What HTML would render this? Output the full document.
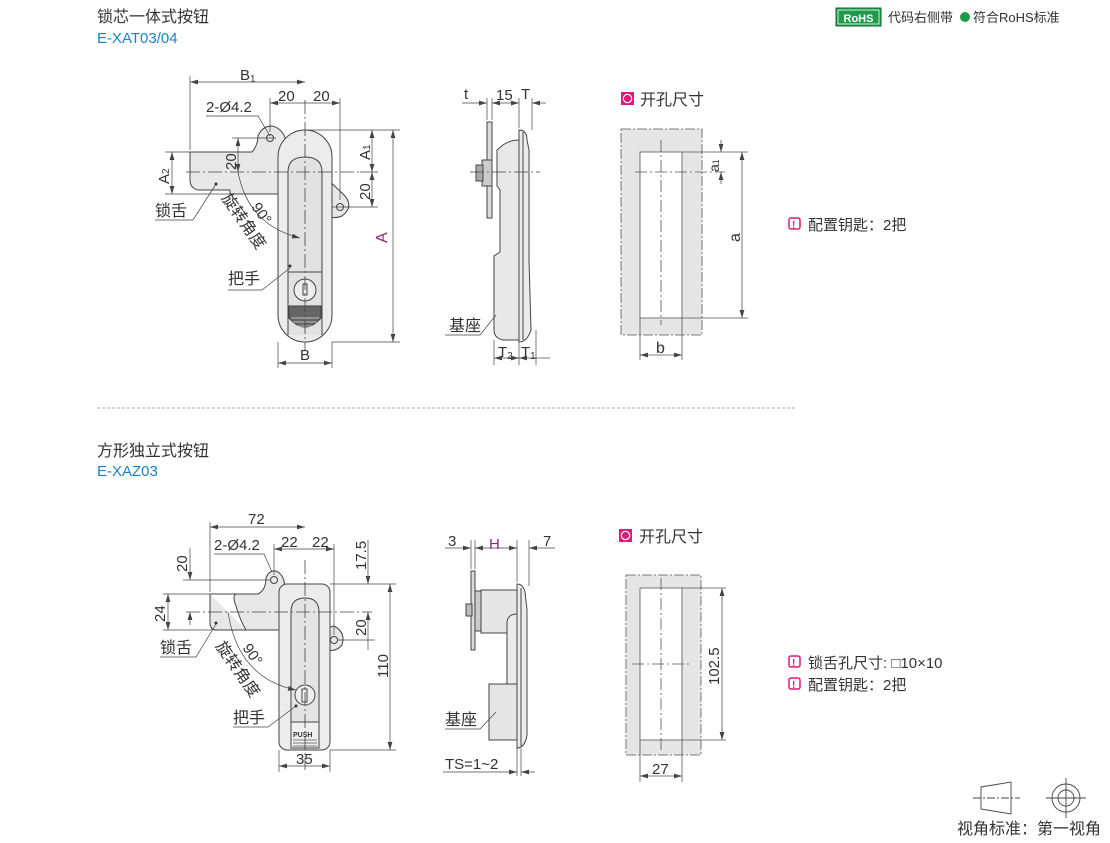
<!DOCTYPE html>
<html><head><meta charset="utf-8">
<style>
html,body{margin:0;padding:0;background:#fff;}
svg{display:block;}
text{font-family:"Liberation Sans","Noto Sans CJK SC",sans-serif;fill:#333;}
</style></head>
<body>
<svg width="1110" height="843" viewBox="0 0 1110 843" xmlns="http://www.w3.org/2000/svg">
<defs>
<marker id="a" viewBox="0 0 10 6" refX="10" refY="3" markerWidth="8" markerHeight="5" orient="auto-start-reverse" markerUnits="userSpaceOnUse"><path d="M0,0 L10,3 L0,6 z" fill="#444"/></marker>
</defs>

<text x="97" y="22" font-size="16">锁芯一体式按钮</text>
<text x="97" y="43" font-size="15" style="fill:#1a82c4">E-XAT03/04</text>
<line x1="97" y1="408" x2="795" y2="408" stroke="#aaa" stroke-dasharray="3,2"/>
<text x="97" y="456" font-size="16">方形独立式按钮</text>
<text x="97" y="476" font-size="15" style="fill:#1a82c4">E-XAZ03</text>

<rect x="836" y="8" width="45" height="18" fill="#1e9a4a" stroke="#0d6e30"/>
<rect x="838" y="10" width="41" height="14" fill="none" stroke="#fff" stroke-width="0.8"/>
<text x="858.5" y="22" font-size="11" font-weight="bold" text-anchor="middle" style="fill:#fff">RoHS</text>
<text x="888" y="22" font-size="13">代码右侧带</text>
<circle cx="965" cy="17" r="5" fill="#1e9a4a"/>
<text x="973" y="22" font-size="13">符合RoHS标准</text>

<g stroke="#444" stroke-width="1" fill="none">
<path d="M190,152 L252,152 Q258,145 258,136 Q262,126 272,126 Q282,128 286,140 L286,194 L230,194 L230,190 L198,190 Q190,188 190,180 Z" fill="#e8e8e8"/>
<path d="M318,170 L345,196 Q354,207 342,216 Q332,220 326,214 Z" fill="#e8e8e8"/>
<rect x="278" y="130" width="54" height="212" rx="27" fill="#ececec"/>
<path d="M288,335 L288,172 Q288,157 305,157 Q322,157 322,172 L322,335" fill="#e2e2e2"/>
<line x1="288" y1="272" x2="322" y2="272"/>
<circle cx="305" cy="290" r="11" fill="#eee"/>
<rect x="303" y="284" width="4" height="11"/>
<path d="M289,306 L321,306 L321,318 Q305,336 289,318 Z" fill="#666"/>
<g stroke="#ddd" stroke-width="0.8"><line x1="291" y1="318" x2="319" y2="318"/><line x1="293" y1="322" x2="317" y2="322"/><line x1="296" y1="326" x2="314" y2="326"/></g>
<circle cx="270" cy="138" r="3.5"/><circle cx="340" cy="207" r="3.5"/>
<g stroke-dasharray="14,3,2,3" stroke-width="0.8">
<line x1="305" y1="100" x2="305" y2="350"/><line x1="186" y1="172" x2="360" y2="172"/>
<line x1="262" y1="138" x2="278" y2="138"/><line x1="332" y1="207" x2="350" y2="207"/>
</g>
<g stroke-width="0.7">
<line x1="190" y1="76" x2="190" y2="150"/>
<line x1="190" y1="82" x2="305" y2="82" marker-start="url(#a)" marker-end="url(#a)"/>
<line x1="270" y1="98" x2="270" y2="132"/><line x1="340" y1="98" x2="340" y2="200"/>
<line x1="270" y1="103" x2="340" y2="103" marker-start="url(#a)" marker-end="url(#a)"/>
<line x1="305" y1="130" x2="400" y2="130"/><line x1="332" y1="342" x2="400" y2="342"/>
<line x1="393" y1="130" x2="393" y2="342" marker-start="url(#a)" marker-end="url(#a)"/>
<line x1="360" y1="172" x2="378" y2="172"/><line x1="345" y1="207" x2="378" y2="207"/>
<line x1="372" y1="130" x2="372" y2="172" marker-start="url(#a)" marker-end="url(#a)"/>
<line x1="372" y1="172" x2="372" y2="207" marker-start="url(#a)" marker-end="url(#a)"/>
<line x1="165" y1="152" x2="192" y2="152"/><line x1="165" y1="194" x2="230" y2="194"/>
<line x1="172" y1="152" x2="172" y2="194" marker-start="url(#a)" marker-end="url(#a)"/>
<line x1="232" y1="138" x2="262" y2="138"/>
<line x1="238" y1="138" x2="238" y2="172" marker-start="url(#a)" marker-end="url(#a)"/>
<line x1="278" y1="342" x2="278" y2="368"/><line x1="332" y1="342" x2="332" y2="368"/>
<line x1="278" y1="363" x2="332" y2="363" marker-start="url(#a)" marker-end="url(#a)"/>
<path d="M206,116 L258,116 L270,136"/>
<path d="M238,172 Q248,225 300,238" marker-end="url(#a)"/>
<path d="M155,220 L193,220 L216,184"/>
<path d="M228,290 L262,290 L290,268"/>
</g>
</g>
<circle cx="216" cy="184" r="1.5" fill="#333"/><circle cx="290" cy="266" r="1.5" fill="#333"/>
<text x="240" y="80" font-size="15">B<tspan font-size="10" dy="2">1</tspan></text>
<text x="206" y="112" font-size="15">2-Ø4.2</text>
<text x="278" y="101" font-size="15">20</text><text x="313" y="101" font-size="15">20</text>
<text font-size="16" transform="translate(387,243) rotate(-90)" style="fill:#8b2a7a">A</text>
<text font-size="15" transform="translate(370,160) rotate(-90)">A<tspan font-size="10">1</tspan></text>
<text font-size="15" transform="translate(370,200) rotate(-90)">20</text>
<text font-size="15" transform="translate(169,184) rotate(-90)">A<tspan font-size="10">2</tspan></text>
<text font-size="15" transform="translate(236,170) rotate(-90)">20</text>
<text x="300" y="360" font-size="15">B</text>
<text x="155" y="216" font-size="16">锁舌</text>
<text x="228" y="284" font-size="16">把手</text>
<text font-size="15" transform="translate(251,207) rotate(55)">90°</text>
<text font-size="16" transform="translate(221,198) rotate(55)">旋转角度</text>

<g stroke="#444" stroke-width="1" fill="none">
<rect x="487" y="122" width="5" height="96" fill="#ddd"/>
<path d="M497,160 L497,150 L503,145 Q510,140 519,140 L519,340 L503,340 Q494,338 494,330 L494,256 L500,252 L500,190 L497,186 Z" fill="#e8e8e8"/>
<rect x="482" y="160" width="10" height="26" fill="#ccc"/>
<rect x="476" y="165" width="7" height="16" fill="#aaa"/>
<path d="M519,130 Q527,130 527,140 L529,150 L529,260 L531,330 Q527,342 519,342 Z" fill="#ececec"/>
<line x1="523" y1="132" x2="523" y2="340"/>
<g stroke-width="0.7">
<line x1="487" y1="98" x2="487" y2="120"/><line x1="492" y1="98" x2="492" y2="120"/><line x1="519" y1="98" x2="519" y2="128"/><line x1="532" y1="98" x2="532" y2="130"/>
<line x1="462" y1="103" x2="487" y2="103" marker-end="url(#a)"/>
<line x1="492" y1="103" x2="519" y2="103" marker-start="url(#a)" marker-end="url(#a)"/>
<line x1="532" y1="103" x2="546" y2="103" marker-start="url(#a)"/>
<line x1="494" y1="340" x2="494" y2="365"/><line x1="519" y1="342" x2="519" y2="365"/><line x1="536" y1="330" x2="536" y2="365"/>
<line x1="494" y1="358" x2="519" y2="358" marker-start="url(#a)" marker-end="url(#a)"/>
<line x1="519" y1="358" x2="536" y2="358" marker-start="url(#a)"/>
<line x1="536" y1="358" x2="550" y2="358"/>
<path d="M445,335 L480,335 L496,315"/>
<line x1="470" y1="172" x2="540" y2="172" stroke-dasharray="14,3,2,3"/>
</g>
</g>
<text x="464" y="99" font-size="15">t</text><text x="496" y="100" font-size="15">15</text><text x="521" y="99" font-size="15">T</text>
<text x="498" y="357" font-size="15">T<tspan font-size="10" dy="2">2</tspan></text>
<text x="521" y="357" font-size="15">T<tspan font-size="10" dy="2">1</tspan></text>
<text x="449" y="331" font-size="16">基座</text>

<rect x="621" y="92" width="13" height="13" fill="#e0197a"/><circle cx="627.5" cy="98.5" r="4.2" fill="none" stroke="#fff" stroke-width="1.2"/>
<text x="640" y="105" font-size="16">开孔尺寸</text>
<g stroke="#555" stroke-width="0.8" fill="none">
<rect x="621" y="129" width="81" height="206" fill="#e6e6e6" stroke-dasharray="10,2,2,2"/>
<rect x="640" y="152" width="42" height="166" fill="#fff"/>
<g stroke-dasharray="12,3,2,3"><line x1="661" y1="140" x2="661" y2="325"/><line x1="635" y1="172" x2="725" y2="172"/></g>
<line x1="682" y1="152" x2="748" y2="152"/><line x1="682" y1="318" x2="748" y2="318"/>
<line x1="742" y1="152" x2="742" y2="318" marker-start="url(#a)" marker-end="url(#a)"/>
<line x1="721" y1="140" x2="721" y2="152" marker-end="url(#a)"/><line x1="721" y1="184" x2="721" y2="172" marker-end="url(#a)"/>
<line x1="640" y1="318" x2="640" y2="360"/><line x1="682" y1="318" x2="682" y2="360"/>
<line x1="640" y1="355" x2="682" y2="355" marker-start="url(#a)" marker-end="url(#a)"/>
</g>
<text font-size="14" transform="translate(719,172) rotate(-90)">a<tspan font-size="9">1</tspan></text>
<text font-size="16" transform="translate(740,242) rotate(-90)">a</text>
<text x="656" y="353" font-size="16">b</text>

<rect x="789" y="218" width="11" height="11" rx="2" fill="none" stroke="#e0197a" stroke-width="1.5"/>
<text x="792" y="228" font-size="10" font-weight="bold" style="fill:#e0197a">!</text>
<text x="808" y="230" font-size="15">配置钥匙：2把</text>

<g stroke="#444" stroke-width="1" fill="none">
<path d="M210,594 L258,594 Q266,590 266,578 Q270,568 278,572 Q286,578 284,588 L284,630 L246,630 Q240,620 236,606 Q232,596 236,594 M210,594 L210,624 Q211,630 216,630 L246,630" fill="#e8e8e8"/>
<path d="M322,630 L334,626 Q346,632 342,645 Q336,652 328,650 Z" fill="#e8e8e8"/>
<rect x="279" y="584" width="51" height="166" rx="8" fill="#ececec"/>
<path d="M291,722 L291,612 Q291,598 305,598 Q319,598 319,612 L319,722" fill="#e4e4e4"/>
<circle cx="305" cy="695" r="10" fill="#eee"/>
<rect x="302" y="689" width="5" height="13"/>
<rect x="291" y="722" width="28" height="26" fill="#f0f0f0"/>
<g stroke="#777"><line x1="293" y1="740" x2="317" y2="740"/><line x1="293" y1="743" x2="317" y2="743"/><line x1="293" y1="746" x2="317" y2="746"/></g>
<circle cx="274" cy="580" r="3.5"/><circle cx="334" cy="640" r="3.5"/>
<g stroke-dasharray="14,3,2,3" stroke-width="0.8">
<line x1="305" y1="560" x2="305" y2="770"/><line x1="186" y1="612" x2="372" y2="612"/>
</g>
<g stroke-width="0.7">
<line x1="210" y1="522" x2="210" y2="592"/>
<line x1="210" y1="527" x2="305" y2="527" marker-start="url(#a)" marker-end="url(#a)"/>
<line x1="274" y1="544" x2="274" y2="575"/><line x1="334" y1="544" x2="334" y2="635"/>
<line x1="274" y1="549" x2="334" y2="549" marker-start="url(#a)" marker-end="url(#a)"/>
<line x1="330" y1="584" x2="396" y2="584"/><line x1="330" y1="750" x2="396" y2="750"/>
<line x1="390" y1="584" x2="390" y2="750" marker-start="url(#a)" marker-end="url(#a)"/>
<line x1="368" y1="540" x2="368" y2="584" marker-end="url(#a)"/>
<line x1="368" y1="650" x2="368" y2="612" marker-end="url(#a)"/>
<line x1="338" y1="640" x2="375" y2="640"/>
<line x1="183" y1="580" x2="270" y2="580"/>
<line x1="190" y1="548" x2="190" y2="580" marker-end="url(#a)"/>
<line x1="190" y1="625" x2="190" y2="612" marker-end="url(#a)"/>
<line x1="163" y1="594" x2="212" y2="594"/><line x1="163" y1="630" x2="212" y2="630"/>
<line x1="168" y1="594" x2="168" y2="630" marker-start="url(#a)" marker-end="url(#a)"/>
<line x1="279" y1="750" x2="279" y2="772"/><line x1="330" y1="750" x2="330" y2="772"/>
<line x1="279" y1="766" x2="330" y2="766" marker-start="url(#a)" marker-end="url(#a)"/>
<path d="M214,554 L264,554 L272,572"/>
<path d="M228,612 Q238,678 296,690" marker-end="url(#a)"/>
<path d="M160,657 L196,657 L216,624"/>
<path d="M233,727 L268,727 L296,706"/>
</g>
</g>
<circle cx="216" cy="623" r="1.5" fill="#333"/><circle cx="296" cy="706" r="1.5" fill="#333"/>
<text x="248" y="524" font-size="15">72</text>
<text x="214" y="550" font-size="15">2-Ø4.2</text>
<text x="281" y="547" font-size="15">22</text><text x="312" y="547" font-size="15">22</text>
<text font-size="15" transform="translate(388,678) rotate(-90)">110</text>
<text font-size="15" transform="translate(366,570) rotate(-90)">17.5</text>
<text font-size="15" transform="translate(366,636) rotate(-90)">20</text>
<text font-size="15" transform="translate(187,572) rotate(-90)">20</text>
<text font-size="15" transform="translate(165,622) rotate(-90)">24</text>
<text x="296" y="764" font-size="15">35</text>
<text x="160" y="653" font-size="16">锁舌</text>
<text x="233" y="723" font-size="16">把手</text>
<text font-size="15" transform="translate(242,648) rotate(55)">90°</text>
<text font-size="16" transform="translate(215,646) rotate(55)">旋转角度</text>
<text x="293" y="737" font-size="7" font-weight="bold">PUSH</text>

<g stroke="#444" stroke-width="1" fill="none">
<rect x="471" y="571" width="4" height="79" fill="#ddd"/>
<rect x="475" y="591" width="6" height="40" fill="#ccc"/>
<rect x="466" y="604" width="6" height="12" fill="#bbb"/>
<rect x="481" y="590" width="36" height="43" fill="#e6e6e6"/>
<path d="M517,614 Q508,614 507,622 L507,690 Q507,700 517,702 Z" fill="#ececec"/>
<rect x="489" y="684" width="28" height="56" fill="#e6e6e6"/>
<path d="M517,584 Q523,584 525,592 L527,610 L527,735 Q525,748 517,748 Z" fill="#ececec"/>
<line x1="521" y1="588" x2="521" y2="746"/>
<g stroke-width="0.7">
<line x1="471" y1="540" x2="471" y2="569"/><line x1="475" y1="540" x2="475" y2="569"/><line x1="517" y1="540" x2="517" y2="582"/><line x1="529" y1="540" x2="529" y2="586"/>
<line x1="445" y1="548" x2="471" y2="548" marker-end="url(#a)"/>
<line x1="475" y1="548" x2="517" y2="548" marker-start="url(#a)" marker-end="url(#a)"/>
<line x1="529" y1="548" x2="555" y2="548" marker-start="url(#a)"/>
<line x1="517" y1="748" x2="517" y2="776"/><line x1="521" y1="748" x2="521" y2="776"/>
<line x1="443" y1="772" x2="517" y2="772" marker-end="url(#a)"/>
<line x1="521" y1="772" x2="535" y2="772" marker-start="url(#a)"/>
<path d="M445,729 L480,729 L496,712"/>
</g>
</g>
<text x="448" y="546" font-size="15">3</text>
<text x="489" y="549" font-size="15" style="fill:#8b2a7a">H</text>
<text x="543" y="546" font-size="15">7</text>
<text x="445" y="769" font-size="15">TS=1~2</text>
<text x="445" y="725" font-size="16">基座</text>

<rect x="619" y="529" width="13" height="13" fill="#e0197a"/><circle cx="625.5" cy="535.5" r="4.2" fill="none" stroke="#fff" stroke-width="1.2"/>
<text x="639" y="542" font-size="16">开孔尺寸</text>
<g stroke="#555" stroke-width="0.8" fill="none">
<rect x="626" y="575" width="75" height="180" fill="#e6e6e6" stroke-dasharray="10,2,2,2"/>
<rect x="640" y="588" width="42" height="152" fill="#fff"/>
<g stroke-dasharray="12,3,2,3"><line x1="661" y1="578" x2="661" y2="750"/><line x1="632" y1="664" x2="692" y2="664"/></g>
<line x1="682" y1="588" x2="726" y2="588"/><line x1="682" y1="740" x2="726" y2="740"/>
<line x1="722" y1="588" x2="722" y2="740" marker-start="url(#a)" marker-end="url(#a)"/>
<line x1="640" y1="740" x2="640" y2="782"/><line x1="682" y1="740" x2="682" y2="782"/>
<line x1="640" y1="776" x2="682" y2="776" marker-start="url(#a)" marker-end="url(#a)"/>
</g>
<text font-size="15" transform="translate(719,685) rotate(-90)">102.5</text>
<text x="652" y="774" font-size="15">27</text>

<rect x="789" y="656" width="11" height="11" rx="2" fill="none" stroke="#e0197a" stroke-width="1.5"/>
<text x="792" y="666" font-size="10" font-weight="bold" style="fill:#e0197a">!</text>
<text x="808" y="668" font-size="15">锁舌孔尺寸: □10×10</text>
<rect x="789" y="678" width="11" height="11" rx="2" fill="none" stroke="#e0197a" stroke-width="1.5"/>
<text x="792" y="688" font-size="10" font-weight="bold" style="fill:#e0197a">!</text>
<text x="808" y="690" font-size="15">配置钥匙：2把</text>

<g stroke="#444" stroke-width="0.9" fill="none">
<path d="M981,787 L1011,782 L1011,814 L981,809 Z"/>
<line x1="973" y1="798" x2="1020" y2="798" stroke-dasharray="8,2,2,2"/>
<circle cx="1066" cy="798" r="14"/><circle cx="1066" cy="798" r="8"/>
<line x1="1046" y1="798" x2="1086" y2="798"/><line x1="1066" y1="778" x2="1066" y2="818"/>
</g>
<text x="957" y="834" font-size="16">视角标准：第一视角</text>
</svg>
</body></html>
